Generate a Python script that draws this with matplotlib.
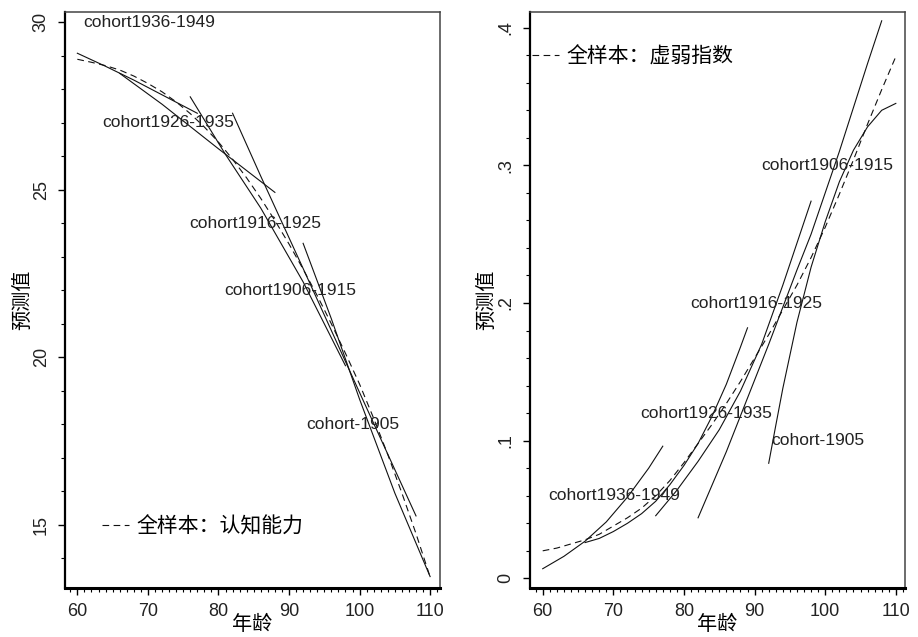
import matplotlib
matplotlib.use("Agg")
import matplotlib.pyplot as plt
from matplotlib.lines import Line2D
from matplotlib.ticker import MultipleLocator

plt.rcParams['font.family'] = ['Liberation Sans', 'Noto Sans CJK SC', 'DejaVu Sans']
CJK = ['Noto Sans CJK SC', 'DejaVu Sans']

# ---------------- data: cognitive ability (left) ----------------
age_full = [60, 62, 64, 66, 68, 70, 72, 74, 76, 78, 80, 82, 84, 86, 88,
            90, 92, 94, 96, 98, 100, 102, 104, 106, 108, 110]
cog_full = [28.89, 28.80, 28.70, 28.57, 28.39, 28.17, 27.92, 27.62, 27.27, 26.87,
            26.42, 25.91, 25.35, 24.74, 24.08, 23.38, 22.63, 21.84, 21.00, 20.12,
            19.20, 18.18, 17.10, 15.95, 14.74, 13.45]

cog_c1936_age = [60, 64, 68, 72, 77]
cog_c1936 = [29.07, 28.68, 28.27, 27.83, 27.28]
cog_c1926_age = [66, 72, 80, 88]
cog_c1926 = [28.47, 27.55, 26.22, 24.92]
cog_c1916_age = [76, 81, 86, 92, 98]
cog_c1916 = [27.77, 26.05, 24.45, 22.25, 19.75]
cog_c1906_age = [82, 86, 92, 100, 108]
cog_c1906 = [27.28, 25.40, 22.65, 18.95, 15.27]
cog_c1905_age = [92, 96, 100, 105, 110]
cog_c1905 = [23.40, 21.15, 18.75, 15.95, 13.46]

# ---------------- data: frailty index (right) ----------------
frail_full = [0.020, 0.022, 0.025, 0.028, 0.032, 0.038, 0.044, 0.051, 0.060, 0.071,
              0.084, 0.098, 0.112, 0.127, 0.143, 0.160, 0.177, 0.195, 0.213, 0.233,
              0.255, 0.279, 0.304, 0.330, 0.355, 0.379]

fr_c1936_age = [60, 63, 66, 69, 72, 75, 77]
fr_c1936 = [0.007, 0.016, 0.027, 0.041, 0.059, 0.080, 0.096]
fr_c1926_age = [66, 68, 70, 72, 74, 76, 78, 80, 82, 84, 86, 88, 89]
fr_c1926 = [0.026, 0.029, 0.034, 0.040, 0.047, 0.056, 0.068, 0.082, 0.098, 0.118,
            0.141, 0.168, 0.182]
fr_c1916_age = [76, 79, 82, 85, 88, 91, 94, 98]
fr_c1916 = [0.0455, 0.064, 0.085, 0.108, 0.136, 0.170, 0.213, 0.274]
fr_c1906_age = [82, 84, 86, 88, 90, 92, 94, 96, 98, 100, 102, 104, 106, 108]
fr_c1906 = [0.044, 0.068, 0.092, 0.118, 0.144, 0.170, 0.197, 0.224, 0.250, 0.280,
            0.310, 0.342, 0.374, 0.405]
fr_c1905_age = [92, 93, 94, 96, 98, 100, 102, 104, 106, 108, 110]
fr_c1905 = [0.0836, 0.111, 0.138, 0.186, 0.226, 0.259, 0.288, 0.311, 0.328, 0.340, 0.345]

# cohort labels (text, x, y in data units)
cohort_names = ['cohort1936-1949', 'cohort1926-1935', 'cohort1916-1925',
                'cohort1906-1915', 'cohort-1905']
cog_label_x = [60.8, 63.6, 75.8, 80.8, 92.5]
cog_label_y = [30.0, 27.0, 24.0, 22.0, 18.0]
fr_label_x = [60.8, 73.8, 80.9, 91.0, 92.4]
fr_label_y = [0.06, 0.12, 0.20, 0.30, 0.10]

cog_yticks = [15, 20, 25, 30]
cog_yticklabels = ['15', '20', '25', '30']
fr_yticks = [0, 0.1, 0.2, 0.3, 0.4]
fr_yticklabels = ['0', '.1', '.2', '.3', '.4']
xticks = [60, 70, 80, 90, 100, 110]

legend_cog = '全样本：认知能力'
legend_fr = '全样本：虚弱指数'
xlabel = '年龄'
ylabel = '预测值'

LW = 0.8
COL = '#111111'
DASH = (6, 4)

fig = plt.figure(figsize=(9.18, 6.37), dpi=100)
ax1 = fig.add_axes([65 / 918, 1 - 588 / 637, 375 / 918, 576 / 637])
ax2 = fig.add_axes([530 / 918, 1 - 588 / 637, 375 / 918, 576 / 637])


def style(ax, yticks, yticklabels, yminor):
    ax.set_xticks(xticks)
    ax.xaxis.set_minor_locator(MultipleLocator(1))
    ax.set_yticks(yticks)
    ax.set_yticklabels(yticklabels, rotation=90, va='center')
    ax.yaxis.set_minor_locator(MultipleLocator(yminor))
    ax.tick_params(which='major', length=5, width=1.0, color='black',
                   labelsize=13, labelcolor='#222222', direction='out')
    ax.tick_params(which='minor', length=3, width=0.8, color='black', direction='out')
    ax.tick_params(axis='x', which='major', pad=6)
    ax.tick_params(axis='y', which='major', pad=6)
    for s in ['top', 'right']:
        ax.spines[s].set_color('#444444')
        ax.spines[s].set_linewidth(1.1)
    ax.spines['left'].set_linewidth(1.6)
    ax.spines['bottom'].set_linewidth(2.2)
    ax.spines['left'].set_color('black')
    ax.spines['bottom'].set_color('black')
    ax.set_xlabel(xlabel, fontsize=14.5, family=CJK, va='center')
    ax.xaxis.set_label_coords(0.5, -0.064)
    ax.set_ylabel(ylabel, fontsize=14.5, family=CJK, va='center')


# ---- left panel ----
ax1.plot(age_full, cog_full, color=COL, lw=LW, dashes=DASH)
for a, v in [(cog_c1936_age, cog_c1936), (cog_c1926_age, cog_c1926),
             (cog_c1916_age, cog_c1916), (cog_c1906_age, cog_c1906),
             (cog_c1905_age, cog_c1905)]:
    ax1.plot(a, v, color=COL, lw=LW)
for t, x, y in zip(cohort_names, cog_label_x, cog_label_y):
    ax1.text(x, y, t, ha='left', va='center', fontsize=12.5, color='#222222')
ax1.set_xlim(58.25, 111.4)
ax1.set_ylim(13.12, 30.30)
style(ax1, cog_yticks, cog_yticklabels, 1)
ax1.yaxis.set_label_coords(-0.112, 0.5)
h1 = Line2D([], [], color=COL, lw=LW, dashes=DASH)
ax1.legend([h1], [legend_cog], loc='center left', bbox_to_anchor=(0.098, 0.1076),
           frameon=False, borderpad=0, borderaxespad=0, handlelength=1.3,
           handletextpad=0.35, prop={'family': CJK, 'size': 15})

# ---- right panel ----
ax2.plot(age_full, frail_full, color=COL, lw=LW, dashes=DASH)
for a, v in [(fr_c1936_age, fr_c1936), (fr_c1926_age, fr_c1926),
             (fr_c1916_age, fr_c1916), (fr_c1906_age, fr_c1906),
             (fr_c1905_age, fr_c1905)]:
    ax2.plot(a, v, color=COL, lw=LW)
for t, x, y in zip(cohort_names, fr_label_x, fr_label_y):
    ax2.text(x, y, t, ha='left', va='center', fontsize=12.5, color='#222222')
ax2.set_xlim(58.2, 111.3)
ax2.set_ylim(-0.007, 0.4114)
style(ax2, fr_yticks, fr_yticklabels, 0.02)
ax2.yaxis.set_label_coords(-0.115, 0.5)
h2 = Line2D([], [], color=COL, lw=LW, dashes=DASH)
ax2.legend([h2], [legend_fr], loc='center left', bbox_to_anchor=(0.0045, 0.9224),
           frameon=False, borderpad=0, borderaxespad=0, handlelength=1.3,
           handletextpad=0.35, prop={'family': CJK, 'size': 15})

fig.savefig('out.png', dpi=100, facecolor='white')
